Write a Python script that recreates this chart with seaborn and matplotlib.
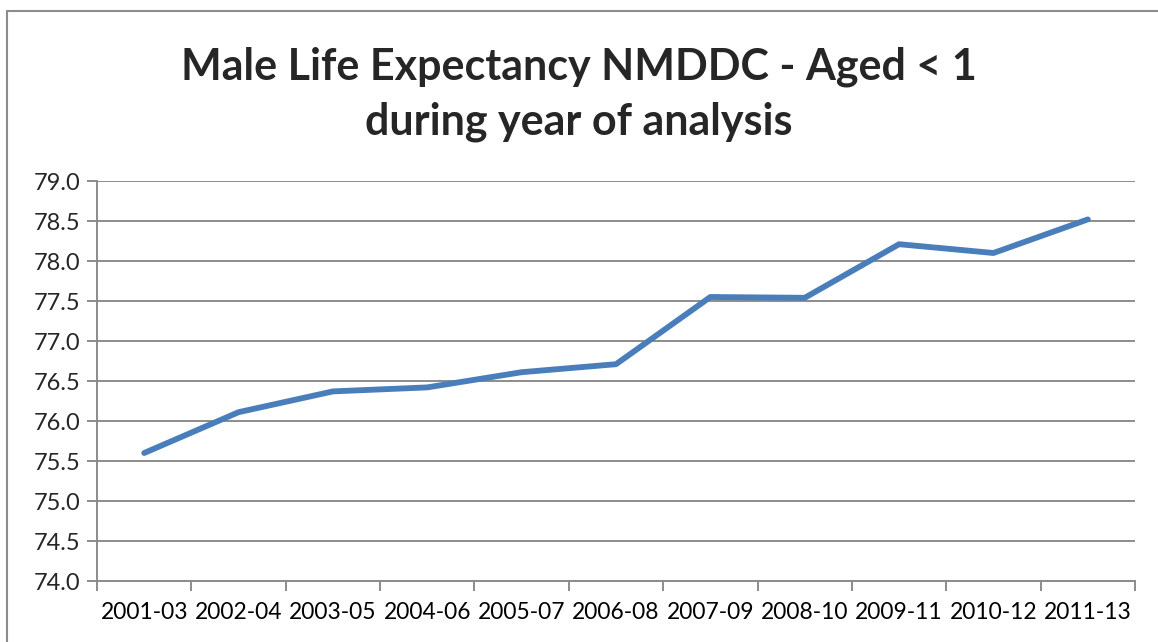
import matplotlib
matplotlib.use("Agg")
import matplotlib.pyplot as plt
import pandas as pd
import seaborn as sns
from matplotlib.lines import Line2D
from matplotlib.ticker import FixedLocator, MultipleLocator

periods = ["2001-03", "2002-04", "2003-05", "2004-06", "2005-07", "2006-08",
           "2007-09", "2008-10", "2009-11", "2010-12", "2011-13"]
life_expectancy = [75.60, 76.11, 76.37, 76.42, 76.61, 76.71,
                   77.55, 77.54, 78.21, 78.10, 78.52]

title = "Male Life Expectancy NMDDC - Aged < 1\nduring year of analysis"

df = pd.DataFrame({"period": periods, "value": life_expectancy})

sns.set_theme(style="white")
plt.rcParams["font.family"] = ["Lato", "DejaVu Sans"]

fig = plt.figure(figsize=(11.58, 6.42), dpi=100)
ax = fig.add_axes([97 / 1158, 1 - 581 / 642, (1135 - 97) / 1158, 400 / 642])

sns.lineplot(data=df, x="period", y="value", ax=ax, color="#4A7EBB",
             linewidth=4.2, solid_capstyle="round", sort=False)

grid_col = "#8C8C8C"
ax.set_ylim(74.0, 79.0)
ax.set_xlim(-0.5, len(periods) - 0.5)
ax.yaxis.set_major_locator(MultipleLocator(0.5))
ax.yaxis.set_major_formatter(matplotlib.ticker.FormatStrFormatter("%.1f"))
ax.grid(axis="y", color=grid_col, linewidth=1.4)
ax.set_axisbelow(True)

# category labels centred, tick marks between categories
ax.set_xticks(range(len(periods)))
ax.set_xticklabels(periods)
ax.xaxis.set_minor_locator(FixedLocator([i - 0.5 for i in range(len(periods) + 1)]))
ax.tick_params(axis="x", which="major", length=0, pad=15, labelsize=16.4, colors="black")
ax.tick_params(axis="x", which="minor", length=7, width=1.4, color=grid_col, direction="out")
ax.tick_params(axis="y", which="major", length=7, width=1.4, color=grid_col,
               direction="out", labelsize=17, pad=5)
ax.tick_params(axis="both", bottom=True, left=True)
ax.xaxis.set_tick_params(which="minor", bottom=True)

for side in ["top", "right"]:
    ax.spines[side].set_visible(False)
for side in ["left", "bottom"]:
    ax.spines[side].set_color(grid_col)
    ax.spines[side].set_linewidth(1.4)

ax.set_xlabel("")
ax.set_ylabel("")

fig.text(0.5, 1 - 94 / 642, title, ha="center", va="center",
         fontsize=31, fontweight="bold", linespacing=1.45)

# outer chart frame (left and top edges visible)
fig.add_artist(Line2D([7.5 / 1158, 7.5 / 1158], [0, 1 - 11 / 642],
                      transform=fig.transFigure, color="#8C8C8C", linewidth=1.5))
fig.add_artist(Line2D([7.5 / 1158, 1], [1 - 11 / 642, 1 - 11 / 642],
                      transform=fig.transFigure, color="#8C8C8C", linewidth=1.5))

fig.savefig("out.png", dpi=100)
